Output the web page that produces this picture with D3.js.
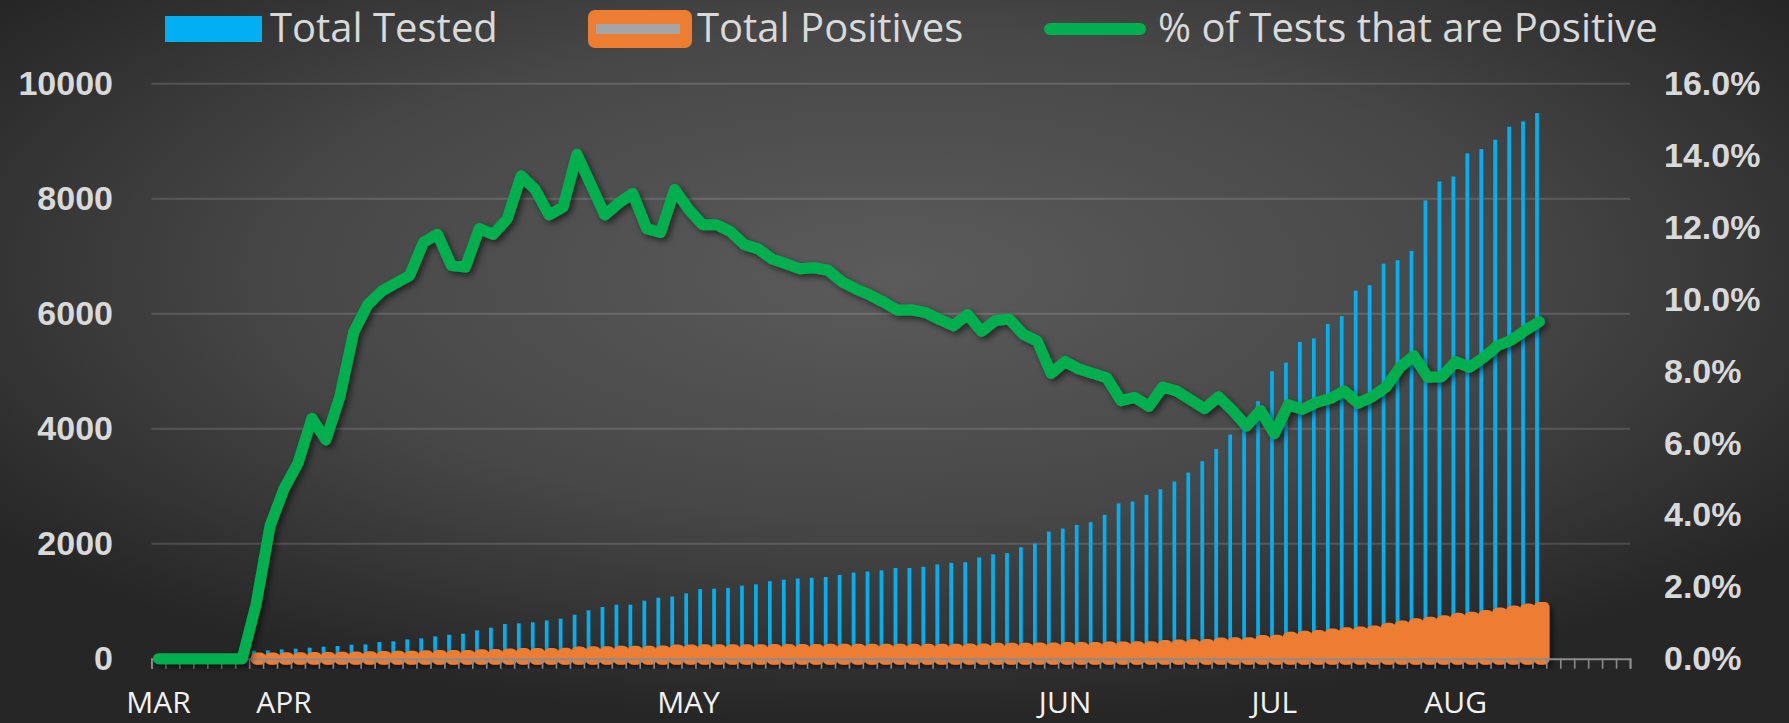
<!DOCTYPE html>
<html>
<head>
<meta charset="utf-8">
<script src="https://cdn.jsdelivr.net/npm/d3@7/dist/d3.min.js"></script>
<style>
  html, body { margin: 0; padding: 0; background: #2b2b2b; overflow: hidden; }
  svg { display: block; font-family: "Open Sans", sans-serif; }
</style>
</head>
<body>
<div id="chart"></div>
<script>
// ---- data ----
const categoryCount = 106;              // daily categories on the x axis (last 6 empty)
const monthLabels = ['MAR', 'APR', 'MAY', 'JUN', 'JUL', 'AUG'];
const monthIndex  = [0, 9, 38, 65, 80, 93];

const totalTested = [
  null, null, null, null, null, null, null,
  139, 145, 162, 174, 191, 209, 220, 244, 249, 290,
  302, 336, 354, 389, 417, 435, 493, 539, 603, 615,
  632, 667, 696, 765, 841, 899, 940, 940, 1009, 1061,
  1082, 1136, 1211, 1218, 1231, 1272, 1293, 1347, 1374, 1395,
  1408, 1422, 1456, 1497, 1517, 1537, 1578, 1578, 1599, 1640,
  1667, 1680, 1762, 1816, 1837, 1939, 2000, 2211, 2265, 2327,
  2374, 2503, 2701, 2735, 2850, 2946, 3082, 3238, 3435, 3646,
  3898, 4050, 4480, 5000, 5150, 5510, 5572, 5823, 5959, 6402,
  6497, 6871, 6932, 7095, 7973, 8300, 8388, 8789, 8864, 9027,
  9252, 9347, 9490
];

const totalPositives = [
  null, null, null, null, null, null, null,
  2, 5, 8, 9, 13, 13, 16, 22, 25, 30,
  32, 36, 41, 46, 46, 47, 59, 64, 74, 83,
  83, 83, 87, 107, 111, 111, 119, 122, 122, 126,
  141, 142, 146, 147, 147, 147, 147, 150, 151, 151,
  153, 154, 154, 154, 154, 154, 154, 155, 155, 155,
  155, 161, 161, 171, 174, 175, 177, 177, 187, 188,
  188, 195, 195, 199, 200, 223, 230, 233, 239, 266,
  269, 270, 310, 313, 364, 382, 397, 422, 444, 455,
  474, 519, 562, 598, 624, 652, 694, 713, 743, 786,
  821, 854, 890
];

const pctPositive = [
  0, 0, 0, 0, 0, 0, 0,
  1.52, 3.70, 4.73, 5.44, 6.69, 6.09, 7.29, 9.09, 9.85, 10.23,
  10.45, 10.66, 11.59, 11.81, 10.94, 10.90, 11.97, 11.81, 12.24, 13.44,
  13.06, 12.35, 12.57, 14.04, 13.19, 12.35, 12.68, 12.95, 11.97, 11.86,
  13.06, 12.51, 12.08, 12.08, 11.89, 11.53, 11.40, 11.12, 10.99, 10.85,
  10.88, 10.81, 10.49, 10.29, 10.12, 9.92, 9.70, 9.71, 9.63, 9.44,
  9.27, 9.58, 9.11, 9.41, 9.45, 9.03, 8.84, 7.94, 8.27, 8.06,
  7.94, 7.81, 7.18, 7.27, 7.02, 7.56, 7.45, 7.20, 6.96, 7.29,
  6.91, 6.47, 6.91, 6.26, 7.07, 6.94, 7.13, 7.24, 7.45, 7.11,
  7.29, 7.56, 8.11, 8.43, 7.83, 7.85, 8.27, 8.11, 8.38, 8.71,
  8.87, 9.14, 9.38
];

const leftTicks  = [0, 2000, 4000, 6000, 8000, 10000];
const rightTicks = [0, 2, 4, 6, 8, 10, 12, 14, 16];
const seriesNames = ['Total Tested', 'Total Positives', '% of Tests that are Positive'];

// ---- layout ----
const W = 1789, H = 723;
const plot = { left: 151.5, right: 1630, top: 83.8, bottom: 658.7 };
const textColor = '#d9d9d9';

const svg = d3.select('#chart').append('svg')
    .attr('width', W)
    .attr('height', H);

const defs = svg.append('defs');
const bg = defs.append('radialGradient')
    .attr('id', 'bg')
    .attr('cx', '50%').attr('cy', '38%').attr('r', '62%');
bg.append('stop').attr('offset', '0%').attr('stop-color', '#5b5b5b');
bg.append('stop').attr('offset', '55%').attr('stop-color', '#474747');
bg.append('stop').attr('offset', '100%').attr('stop-color', '#262626');

const shadow = defs.append('filter')
    .attr('id', 'shadow')
    .attr('x', '-10%').attr('y', '-10%').attr('width', '120%').attr('height', '130%');
shadow.append('feDropShadow')
    .attr('dx', 3).attr('dy', 3).attr('stdDeviation', 3)
    .attr('flood-color', '#000').attr('flood-opacity', 0.55);

svg.append('rect')
    .attr('width', W).attr('height', H)
    .attr('fill', 'url(#bg)');

// scales
const x = d3.scaleBand()
    .domain(d3.range(categoryCount))
    .range([plot.left, plot.right]);
const bw = x.bandwidth();
const x1 = d3.scaleBand()
    .domain(['tested', 'positives'])
    .range([bw / 2 - 4.2, bw / 2 + 4.2])
    .paddingInner(0.2);
const xTick = d3.scaleLinear()
    .domain([0, categoryCount])
    .range([plot.left, plot.right]);

const y = d3.scaleLinear().domain([0, 10000]).range([plot.bottom, plot.top]);
const yR = d3.scaleLinear().domain([0, 16]).range([plot.bottom, plot.top]);

// gridlines
svg.append('g')
    .selectAll('line')
    .data(leftTicks.filter(d => d > 0))
    .enter().append('line')
    .attr('x1', plot.left).attr('x2', plot.right)
    .attr('y1', d => y(d)).attr('y2', d => y(d))
    .attr('stroke', 'rgba(255,255,255,0.14)')
    .attr('stroke-width', 2);

// left axis
const leftAxis = svg.append('g')
    .attr('transform', `translate(${113},0)`)
    .call(d3.axisLeft(y).tickValues(leftTicks).tickSize(0).tickPadding(0).tickFormat(d3.format('d')));
leftAxis.select('.domain').remove();
leftAxis.selectAll('text')
    .attr('fill', textColor)
    .style('font-size', '34px')
    .style('font-weight', 700);

// right axis
const rightAxis = svg.append('g')
    .attr('transform', `translate(${1664},0)`)
    .call(d3.axisRight(yR).tickValues(rightTicks).tickSize(0).tickPadding(0).tickFormat(d => d.toFixed(1) + '%'));
rightAxis.select('.domain').remove();
rightAxis.selectAll('text')
    .attr('fill', textColor)
    .style('font-size', '34px')
    .style('font-weight', 700);

const rows = totalTested.map((t, i) => ({ i: i, tested: t, positives: totalPositives[i], pct: pctPositive[i] }));

// total tested columns
svg.append('g')
    .selectAll('rect')
    .data(rows.filter(d => d.tested != null))
    .enter().append('rect')
    .attr('x', d => x(d.i) + x1('tested'))
    .attr('width', x1.bandwidth())
    .attr('y', d => y(d.tested))
    .attr('height', d => y(0) - y(d.tested))
    .attr('fill', '#00b0f0');

// total positives columns: thick round-joined orange outline, grey fill
svg.append('g')
    .attr('filter', 'url(#shadow)')
    .selectAll('rect')
    .data(rows.filter(d => d.positives != null))
    .enter().append('rect')
    .attr('x', d => x(d.i) + x1('positives'))
    .attr('width', x1.bandwidth())
    .attr('y', d => y(d.positives))
    .attr('height', d => y(0) - y(d.positives))
    .attr('fill', '#a5a5a5')
    .attr('stroke', '#ed7d31')
    .attr('stroke-width', 12)
    .attr('stroke-linejoin', 'round');

// category axis
const xAxis = svg.append('g')
    .attr('transform', `translate(0,${plot.bottom})`)
    .call(d3.axisBottom(xTick).tickValues(d3.range(categoryCount + 1)).tickSize(10).tickFormat(''));
xAxis.select('.domain')
    .attr('stroke', '#8c8c8c')
    .attr('stroke-width', 2);
xAxis.selectAll('.tick line')
    .attr('stroke', '#8c8c8c')
    .attr('stroke-width', 1.6);

svg.append('g')
    .selectAll('text')
    .data(monthLabels)
    .enter().append('text')
    .attr('x', (d, k) => x(monthIndex[k]) + bw / 2)
    .attr('y', 713)
    .attr('text-anchor', 'middle')
    .attr('fill', '#f2f2f2')
    .style('font-size', '30px')
    .text(d => d);

// % positive line
const line = d3.line()
    .x(d => x(d.i) + bw / 2)
    .y(d => yR(d.pct));

svg.append('path')
    .datum(rows)
    .attr('d', line)
    .attr('fill', 'none')
    .attr('stroke', '#00b050')
    .attr('stroke-width', 11)
    .attr('stroke-linejoin', 'round')
    .attr('stroke-linecap', 'round')
    .attr('filter', 'url(#shadow)');

// legend
const legend = svg.append('g');
legend.append('rect')
    .attr('x', 165).attr('y', 16).attr('width', 97).attr('height', 26)
    .attr('fill', '#00b0f0');
legend.append('rect')
    .attr('x', 588).attr('y', 10).attr('width', 104).attr('height', 38)
    .attr('rx', 7)
    .attr('fill', '#ed7d31');
legend.append('rect')
    .attr('x', 596).attr('y', 24).attr('width', 84).attr('height', 10)
    .attr('fill', '#a5a5a5');
legend.append('line')
    .attr('x1', 1050).attr('x2', 1140).attr('y1', 29).attr('y2', 29)
    .attr('stroke', '#00b050').attr('stroke-width', 12)
    .attr('stroke-linecap', 'round');

legend.selectAll('text')
    .data(seriesNames)
    .enter().append('text')
    .attr('x', (d, k) => [270, 697, 1158][k])
    .attr('y', 42)
    .attr('fill', textColor)
    .style('font-size', '40px')
    .text(d => d);
</script>
</body>
</html>
